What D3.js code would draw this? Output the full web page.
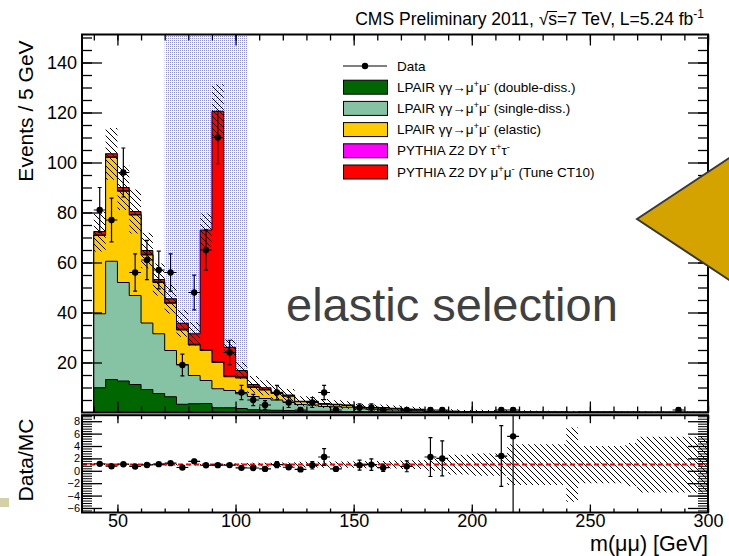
<!DOCTYPE html>
<html>
<head>
<meta charset="utf-8">
<script src="https://cdn.jsdelivr.net/npm/d3@7"></script>
<style>
body { margin: 0; background: #fff; }
svg { display: block; font-family: "Liberation Sans", Arial, Helvetica, sans-serif; }
</style>
</head>
<body>
<div id="chart"></div>
<script>
// bin lower edges, 5 GeV wide
const binLow = [40,45,50,55,60,65,70,75,80,85,90,95,100,105,110,115,120,125,130,135,140,145,150,155,160,165,170,175,180,185,190,195,200,205,210,215,220,225,230,235,240,245,250,255,260,265,270,275,280,285,290,295];

// MC components (events per bin)
const doubleDiss = [9.9,13.2,12.6,11.2,9.2,7.6,6.3,3.3,3.5,3.6,1.9,1.9,1.6,1.1,1.0,0.9,0.8,0.6,0.5,0.5,0.4,0.3,0.3,0.3,0.2,0.2,0.2,0.1,0.1,0.1,0.1,0.1,0.1,0.05,0.05,0.03,0.03,0.03,0.02,0.02,0.01,0.02,0.02,0.02,0.02,0.02,0.01,0.01,0.01,0.01,0.01,0.01];
const singleDiss = [29.6,47.3,39.4,35.6,26.6,23.9,18.5,15.9,11.3,9.2,7.6,6.9,5.9,5.3,4.6,4.1,3.4,2.6,2.5,1.9,1.9,1.8,1.2,1.0,1.1,0.8,0.6,0.6,0.2,0.2,0.2,0.15,0.15,0.15,0.15,0.09,0.09,0.07,0.08,0.08,0.04,0.08,0.08,0.07,0.06,0.05,0.04,0.04,0.04,0.04,0.03,0.03];
const elastic = [31.3,41.5,36.5,32.2,27.2,20.5,18.9,13.8,12.2,12.0,10.5,5.5,6.3,3.6,3.4,2.6,2.3,1.1,1.2,0.9,0.8,0.7,0.5,0.5,0.5,0.5,0.3,0.3,0.1,0.15,0.15,0.13,0.13,0.13,0.2,0.05,0.06,0.05,0.04,0.04,0.03,0.03,0.03,0.03,0.03,0.03,0.03,0.03,0.02,0.02,0.02,0.02];
const dyTauTau = [0.2,0.2,0.2,0.2,0.3,0.2,0.2,0.3,0.3,0.4,0.4,0.3,0.4,0.2,0.2,0.1,0.1,0.1,0.1,0.1,0.1,0.1,0.1,0.1,0,0,0,0,0,0,0,0,0,0,0,0,0,0,0,0,0,0,0,0,0,0,0,0,0,0,0,0];
const dyMuMu = [1.4,1.3,1.3,1.2,1.5,1.0,1.6,2.4,4.2,47.8,100.1,11.5,2.6,1.0,0.7,0.4,0.4,0.1,0.2,0.2,0.1,0.1,0.1,0.1,0.2,0.2,0.3,0.3,0.05,0.05,0.05,0.02,0.02,0.02,0.02,0.01,0.02,0.02,0.02,0.01,0,0.01,0.01,0.01,0.01,0.01,0.01,0,0.01,0.01,0.01,0.01];

// relative MC uncertainty per bin
const mcRelErr = [0.11,0.10,0.10,0.11,0.11,0.12,0.13,0.15,0.15,0.09,0.09,0.12,0.2,0.3,0.3,0.35,0.35,0.45,0.45,0.5,0.5,0.5,0.55,0.6,0.6,0.65,0.7,0.7,1.0,1.0,1.6,1.6,1.8,1.8,1.8,3.3,3.3,3.3,3.3,3.3,6,3,3,3,3,3.5,4.5,4.5,4.5,4.5,4.5,4.5];

// observed events
const dataCounts = [81,77,96,56,61,57,56,19,48,65,110,24,8,5,3,8,4,1,4,8,1,0,2,2,1,0,1,0,1,1,0,0,0,0,1,1,0,0,0,0,0,0,0,0,0,0,0,0,0,1,0,0];

const legendLabels = [
  [["Data"]],
  [["LPAIR γγ→μ"],["+",1],["μ"],["-",1],[" (double-diss.)"]],
  [["LPAIR γγ→μ"],["+",1],["μ"],["-",1],[" (single-diss.)"]],
  [["LPAIR γγ→μ"],["+",1],["μ"],["-",1],[" (elastic)"]],
  [["PYTHIA Z2 DY τ"],["+",1],["τ"],["-",1]],
  [["PYTHIA Z2 DY μ"],["+",1],["μ"],["-",1],["  (Tune CT10)"]]
];
const legendColors = [null, "#006600", "#86c3a4", "#ffcc00", "#ff00ff", "#ff0000"];
const yTicksTop = [20,40,60,80,100,120,140];
const yTicksRatio = [-6,-4,-2,0,2,4,6,8];
const xTicks = [50,100,150,200,250,300];

const W = 729, H = 556;
const svg = d3.select("#chart").append("svg").attr("width", W).attr("height", H);
const defs = svg.append("defs");

defs.append("pattern").attr("id", "hatch").attr("patternUnits", "userSpaceOnUse")
    .attr("width", 6).attr("height", 6)
    .append("path").attr("d", "M0,0L6,6M-1,5L1,7M5,-1L7,1")
    .attr("stroke", "#000").attr("stroke-width", 1);

const dots = defs.append("pattern").attr("id", "dots").attr("patternUnits", "userSpaceOnUse")
    .attr("width", 2).attr("height", 2);
dots.append("rect").attr("width", 2).attr("height", 2).attr("fill", "#fff");
dots.append("rect").attr("width", 1).attr("height", 1).attr("fill", "#8c8cf6");

const L = 82, R = 708;
const x = d3.scaleLinear().domain([35, 300]).range([L, R]);
const yTop = d3.scaleLinear().domain([0, 151.2]).range([412.5, 34.5]);
const yRat = d3.scaleLinear().domain([-6.73, 8.97]).range([512.5, 415.2]);

defs.append("clipPath").attr("id", "clipTop").append("rect")
    .attr("x", L).attr("y", 34.5).attr("width", R - L).attr("height", 378);
defs.append("clipPath").attr("id", "clipRat").append("rect")
    .attr("x", L).attr("y", 415.2).attr("width", R - L).attr("height", 97.3);

const table = binLow.map((b, i) => ({
    lo: b, dd: doubleDiss[i], sd: singleDiss[i], el: elastic[i], tau: dyTauTau[i], dy: dyMuMu[i], n: dataCounts[i], rel: mcRelErr[i]
}));
const keys = ["dd", "sd", "el", "tau", "dy"];
const colors = {dd: "#006600", sd: "#86c3a4", el: "#ffcc00", tau: "#ff00ff", dy: "#ff0000"};
const series = d3.stack().keys(keys)(table);
table.forEach((d, i) => { d.mc = series[series.length - 1][i][1]; });

// ---------- upper panel ----------
const upper = svg.append("g").attr("clip-path", "url(#clipTop)");

upper.append("rect")
    .attr("x", x(70)).attr("y", 34.5)
    .attr("width", x(105) - x(70)).attr("height", 378)
    .attr("fill", "url(#dots)");

const stepArea = d3.area().x(p => x(p[0])).y0(yTop(0)).y1(p => yTop(p[1]));
series.slice().reverse().forEach(s => {
    const pts = s.flatMap(d => [[d.data.lo, d[1]], [d.data.lo + 5, d[1]]]);
    upper.append("path")
        .attr("d", stepArea(pts))
        .attr("fill", colors[s.key])
        .attr("stroke", "#000")
        .attr("stroke-width", 1);
});

const bandTop = d3.area().x(p => x(p[0]))
    .y0(p => yTop(Math.max(0, p[1]))).y1(p => yTop(Math.min(151.2, p[2])));
const bandPts = table.flatMap(d => {
    const e = d.mc * d.rel;
    return [[d.lo, d.mc - e, d.mc + e], [d.lo + 5, d.mc - e, d.mc + e]];
});
upper.append("path").attr("d", bandTop(bandPts)).attr("fill", "url(#hatch)");

const drawPoints = (g, pts, ys) => {
    const p = g.selectAll("g.pt").data(pts).enter().append("g").attr("class", "pt");
    p.append("line")
        .attr("x1", d => x(d.lo)).attr("x2", d => x(d.lo + 5))
        .attr("y1", d => ys(d.v)).attr("y2", d => ys(d.v))
        .attr("stroke", "#000").attr("stroke-width", 1.2);
    p.append("line")
        .attr("x1", d => x(d.lo + 2.5)).attr("x2", d => x(d.lo + 2.5))
        .attr("y1", d => ys(d.v - d.e)).attr("y2", d => ys(d.v + d.e))
        .attr("stroke", "#000").attr("stroke-width", 1.2);
    ["lo", "hi"].forEach(k => {
        p.append("line")
            .attr("x1", d => x(d.lo + 2.5) - 2).attr("x2", d => x(d.lo + 2.5) + 2)
            .attr("y1", d => ys(k === "lo" ? d.v - d.e : d.v + d.e))
            .attr("y2", d => ys(k === "lo" ? d.v - d.e : d.v + d.e))
            .attr("stroke", "#000").attr("stroke-width", 1.2);
    });
    p.append("circle")
        .attr("cx", d => x(d.lo + 2.5)).attr("cy", d => ys(d.v))
        .attr("r", 3.2).attr("fill", "#000");
};

drawPoints(upper, table.filter(d => d.n > 0).map(d => ({lo: d.lo, v: d.n, e: Math.sqrt(d.n)})), yTop);

// ---------- ratio panel ----------
const rat = svg.append("g").attr("clip-path", "url(#clipRat)");
const bandRat = d3.area().x(p => x(p[0]))
    .y0(p => yRat(Math.max(-6.73, 1 - p[1]))).y1(p => yRat(Math.min(8.97, 1 + p[1])));
rat.append("path")
    .attr("d", bandRat(table.flatMap(d => [[d.lo, d.rel], [d.lo + 5, d.rel]])))
    .attr("fill", "url(#hatch)");

rat.append("line")
    .attr("x1", L).attr("x2", R).attr("y1", yRat(1)).attr("y2", yRat(1))
    .attr("stroke", "#ff0000").attr("stroke-width", 2).attr("stroke-dasharray", "5,3");

// points whose ratio falls above the panel are not drawn
const ratioPts = table.filter(d => d.n > 0 && d.mc > 0 && d.n / d.mc < 8.97).map(d => {
    const r = d.n / d.mc;
    return {lo: d.lo, v: r, e: r * Math.sqrt(1 / d.n + d.rel * d.rel)};
});
drawPoints(rat, ratioPts, yRat);

// ---------- frames and axes ----------
const axG = svg.append("g");
const styleAxis = (g, fs) => {
    g.select(".domain").remove();
    g.selectAll("line").attr("stroke", "#000").attr("stroke-width", 1.3);
    g.selectAll("text").attr("fill", "#000").attr("font-size", fs)
        .attr("font-family", "Liberation Sans, Arial, sans-serif");
};

// upper y axis
axG.append("g").attr("transform", `translate(${L},0)`)
    .call(d3.axisLeft(yTop).tickValues(d3.range(5, 151, 5)).tickSize(-10).tickFormat(""))
    .call(g => styleAxis(g, 0));
axG.append("g").attr("transform", `translate(${L},0)`)
    .call(d3.axisLeft(yTop).tickValues(yTicksTop).tickSize(-20).tickPadding(5))
    .call(g => styleAxis(g, 18));
axG.append("g").attr("transform", `translate(${R},0)`)
    .call(d3.axisRight(yTop).tickValues(d3.range(5, 151, 5)).tickSize(-10).tickFormat(""))
    .call(g => styleAxis(g, 0));
axG.append("g").attr("transform", `translate(${R},0)`)
    .call(d3.axisRight(yTop).tickValues(yTicksTop).tickSize(-20).tickFormat(""))
    .call(g => styleAxis(g, 0));

// upper x ticks (top and bottom)
[[34.5, d3.axisTop], [412.5, d3.axisBottom]].forEach(([yy, ax]) => {
    axG.append("g").attr("transform", `translate(0,${yy})`)
        .call(ax(x).tickValues(d3.range(40, 301, 10)).tickSize(-6).tickFormat(""))
        .call(g => styleAxis(g, 0));
    axG.append("g").attr("transform", `translate(0,${yy})`)
        .call(ax(x).tickValues(xTicks).tickSize(-11).tickFormat(""))
        .call(g => styleAxis(g, 0));
});

// ratio y axis
axG.append("g").attr("transform", `translate(${L},0)`)
    .call(d3.axisLeft(yRat).tickValues(d3.range(-6.4, 8.9, 0.4)).tickSize(-10).tickFormat(""))
    .call(g => styleAxis(g, 0)).selectAll("line").attr("stroke-width", 1);
axG.append("g").attr("transform", `translate(${L},0)`)
    .call(d3.axisLeft(yRat).tickValues(yTicksRatio).tickSize(-20).tickPadding(2))
    .call(g => styleAxis(g, 11));
axG.append("g").attr("transform", `translate(${R},0)`)
    .call(d3.axisRight(yRat).tickValues(d3.range(-6.4, 8.9, 0.4)).tickSize(-10).tickFormat(""))
    .call(g => styleAxis(g, 0)).selectAll("line").attr("stroke-width", 1);
axG.append("g").attr("transform", `translate(${R},0)`)
    .call(d3.axisRight(yRat).tickValues(yTicksRatio).tickSize(-20).tickFormat(""))
    .call(g => styleAxis(g, 0));

// ratio x axis
axG.append("g").attr("transform", "translate(0,512.5)")
    .call(d3.axisBottom(x).tickValues(d3.range(40, 301, 10)).tickSize(-4).tickFormat(""))
    .call(g => styleAxis(g, 0));
axG.append("g").attr("transform", "translate(0,512.5)")
    .call(d3.axisBottom(x).tickValues(xTicks).tickSize(-8).tickPadding(2))
    .call(g => styleAxis(g, 18))
    .selectAll("text").attr("dy", "0.71em");
axG.append("g").attr("transform", "translate(0,415.2)")
    .call(d3.axisTop(x).tickValues(d3.range(40, 301, 10)).tickSize(-4).tickFormat(""))
    .call(g => styleAxis(g, 0));
axG.append("g").attr("transform", "translate(0,415.2)")
    .call(d3.axisTop(x).tickValues(xTicks).tickSize(-8).tickFormat(""))
    .call(g => styleAxis(g, 0));

// frames
axG.append("rect").attr("x", L).attr("y", 34.5).attr("width", R - L).attr("height", 378)
    .attr("fill", "none").attr("stroke", "#000").attr("stroke-width", 2);
axG.append("rect").attr("x", L).attr("y", 415.2).attr("width", R - L).attr("height", 97.3)
    .attr("fill", "none").attr("stroke", "#000").attr("stroke-width", 2);

// ---------- titles ----------
const supText = (sel, parts, fs) => {
    parts.forEach(p => {
        const t = sel.append("tspan").text(p[0]);
        if (p[1]) t.attr("font-size", fs * 0.7).attr("baseline-shift", "super");
    });
};

const title = svg.append("text").attr("x", 704).attr("y", 25)
    .attr("text-anchor", "end").attr("font-size", 17.5).attr("fill", "#000");
title.append("tspan").text("CMS Preliminary 2011, √");
title.append("tspan").text("s");
title.append("tspan").text("=7 TeV, L=5.24 fb");
title.append("tspan").text("-1").attr("font-size", 12).attr("baseline-shift", "super");
{
    const idx = "CMS Preliminary 2011, √".length;
    const ex = title.node().getExtentOfChar(idx);
    svg.append("line").attr("x1", ex.x - 1).attr("x2", ex.x + ex.width)
        .attr("y1", 11.5).attr("y2", 11.5).attr("stroke", "#000").attr("stroke-width", 1);
}

svg.append("text").attr("transform", "translate(33,111) rotate(-90)")
    .attr("text-anchor", "middle").attr("font-size", 21).text("Events / 5 GeV");
svg.append("text").attr("transform", "translate(33,460) rotate(-90)")
    .attr("text-anchor", "middle").attr("font-size", 21).text("Data/MC");
svg.append("text").attr("x", 708).attr("y", 551)
    .attr("text-anchor", "end").attr("font-size", 21.5).text("m(μμ) [GeV]");

// ---------- legend ----------
const leg = svg.append("g");
legendLabels.forEach((parts, i) => {
    const cy = 66 + i * 21.2;
    if (i === 0) {
        leg.append("line").attr("x1", 343).attr("x2", 387).attr("y1", cy).attr("y2", cy)
            .attr("stroke", "#000").attr("stroke-width", 1.2);
        leg.append("circle").attr("cx", 365).attr("cy", cy).attr("r", 3.2).attr("fill", "#000");
    } else {
        leg.append("rect").attr("x", 343.5).attr("y", cy - 7).attr("width", 44).attr("height", 14)
            .attr("fill", legendColors[i]).attr("stroke", "#000").attr("stroke-width", 1);
    }
    const t = leg.append("text").attr("x", 397).attr("y", cy + 4.5).attr("font-size", 13.5);
    supText(t, parts, 13.5);
});

// ---------- overlays ----------
svg.append("text").attr("x", 286).attr("y", 321).attr("font-size", 47)
    .attr("fill", "#404040").text("elastic selection");
svg.append("path").attr("d", "M637,219L770,131L770,307Z")
    .attr("fill", "#d4a300").attr("stroke", "#383838").attr("stroke-width", 2);
svg.append("rect").attr("x", 0).attr("y", 498).attr("width", 9).attr("height", 9)
    .attr("fill", "#d3cfa6");
</script>
</body>
</html>
